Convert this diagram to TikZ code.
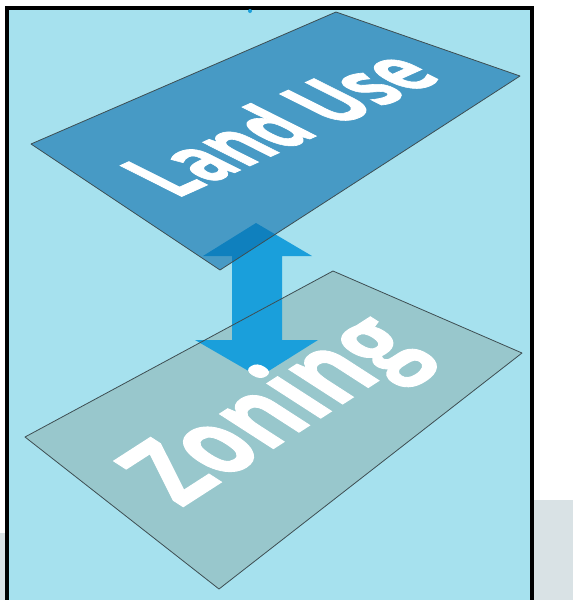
\documentclass[tikz,border=0pt]{standalone}
\usepackage{fontspec}
\newfontfamily\planefont{Open Sans}[BoldFeatures={FakeBold=1.2}]
\definecolor{sky}{HTML}{A6E1EE}
\definecolor{landuse}{HTML}{086CAB}
\definecolor{zoning}{HTML}{98C7CC}
\definecolor{arrowblue}{HTML}{1A9FDB}
\definecolor{edge}{HTML}{3E4E52}
\definecolor{floor}{HTML}{D9E2E5}
\begin{document}
\begin{tikzpicture}[x=1pt,y=-1pt,
  plane/.style={draw=edge,line width=0.8pt,line join=round},
  planetext/.style={text=white,font=\planefont\bfseries\fontsize{40}{40}\selectfont,
    inner sep=0pt,anchor=base west,transform shape}]
\useasboundingbox (0,0) rectangle (573,600);
\fill[floor] (534,500) rectangle (573,600);
\fill[floor] (0,533) rectangle (5,600);
\draw[line width=4pt,fill=sky] (7,7.5) rectangle (532,606);
\fill[arrowblue] (250,11) circle (2);
% lower plane
\coordinate (zl) at (25,437);
\coordinate (zt) at (333,271);
\coordinate (zr) at (522,353);
\coordinate (zb) at (219,589);
\fill[zoning] (zl)--(zt)--(zr)--(zb)--cycle;
% two-headed arrow between the planes
\fill[arrowblue] (256,223)--(312,256)--(282,256)--(282,340)--(318,340)--(259,377)
  --(195,340)--(232,340)--(232,256)--(203,256)--cycle;
\draw[plane] (zl)--(zt)--(zr)--(zb)--cycle;
% upper plane
\coordinate (ll) at (31,144);
\coordinate (lt) at (336,12);
\coordinate (lr) at (520,76);
\coordinate (lb) at (220,270);
\filldraw[plane,fill=landuse,fill opacity=0.6] (ll)--(lt)--(lr)--(lb)--cycle;
\begin{scope}[shift={(176,199)},cm={1.47,0.66,-2.15,1.08,(0,0)}]
\node[planetext] (landtext) at (0,0) {Land Use};
\end{scope}
\begin{scope}[shift={(181,508)},cm={1.8,1.16,-2.45,1.58,(0,0)}]
\node[planetext] (zoningtext) at (0,0) {Zoning};
\end{scope}
\end{tikzpicture}
\end{document}
